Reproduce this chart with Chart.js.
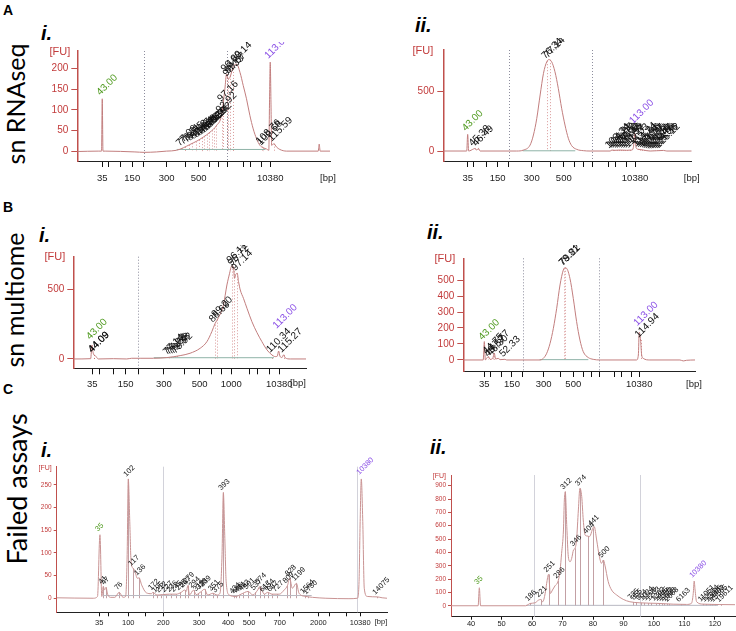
<!DOCTYPE html>
<html>
<head>
<meta charset="utf-8">
<script src="https://cdn.jsdelivr.net/npm/chart.js@4.4.0/dist/chart.umd.min.js"></script>
<style>
body { margin: 0; background: #fff; width: 736px; height: 631px; position: relative; overflow: hidden; font-family: "Liberation Sans", Arial, sans-serif; }
canvas { position: absolute; }
.letter { position: absolute; font-weight: bold; font-size: 14px; }
.roman { position: absolute; font-weight: bold; font-style: italic; font-size: 20px; }
.side { position: absolute; font-family: Lato, sans-serif; font-size: 25px; white-space: nowrap; transform: translate(-50%, -50%) rotate(-90deg); }
</style>
</head>
<body>
<div class="letter" style="left:3px;top:2px">A</div>
<div class="letter" style="left:3px;top:199px">B</div>
<div class="letter" style="left:3px;top:381px">C</div>
<div class="roman" style="left:41px;top:22px">i.</div>
<div class="roman" style="left:415px;top:14px">ii.</div>
<div class="roman" style="left:39px;top:224px">i.</div>
<div class="roman" style="left:427px;top:221px">ii.</div>
<div class="roman" style="left:41px;top:439px">i.</div>
<div class="roman" style="left:430px;top:436px">ii.</div>
<div class="side" style="left:15px;top:104px">sn RNAseq</div>
<div class="side" style="left:14px;top:300px">sn multiome</div>
<div class="side" style="left:16px;top:489px;font-size:27px">Failed assays</div>

<canvas id="ai"></canvas>
<canvas id="aii"></canvas>
<canvas id="bi"></canvas>
<canvas id="bii"></canvas>
<canvas id="ci"></canvas>
<canvas id="cii"></canvas>

<script>
// Ladder: migration time (s) of each size standard, and its size in bp
const ladderSec = [43, 45.6, 50.8, 55.5, 60.2, 69.8, 77.6, 83.2, 87.6, 91.4, 95.0, 101.8, 104.9, 109.4, 113];
const ladderBp = [35, 50, 100, 150, 200, 300, 400, 500, 600, 700, 1000, 2000, 3000, 7000, 10380];
const aShownBp = [35, 150, 300, 500, 10380];
const biShownBp = [35, 150, 300, 500, 1000, 10380];
const ciShownBp = [35, 100, 200, 300, 400, 500, 700, 2000, 10380];
const ciiTicks = [40, 50, 60, 70, 80, 90, 100, 110, 120];

// A i. sn RNAseq
const aiTime = [32.6, 41.3, 42.7, 43.0, 43.3, 44.5, 56.6, 60.4, 65.6, 69.8, 74.0, 76.75, 79.5, 82.3, 85.1, 87.9, 90.6, 92.7, 94.1, 94.8, 95.5, 96.2, 97.6, 99.0, 100.4, 101.75, 103.1, 104.5, 105.9, 107.3, 108.7, 110.1, 111.5, 112.4, 112.7, 113.0, 113.3, 113.6, 114.5, 115.6, 117.0, 119.8, 133.0, 133.4, 133.8, 137.9];
const aiFU = [-1, 0, 0, 127, 0, 0, -2, -3, -2, 0, 2, 8, 16, 24, 34, 46, 62, 87, 151, 187, 175, 179, 205, 211, 191, 159, 127, 87, 54, 30, 14, 8, 5, 2, 119, 216, 119, 14, 18, 10, 4, 0, 0, 17, 0, 0];
const aiYTicks = [0, 50, 100, 150, 200];
const aiPeakX = [43.0, 113.0, 76.1, 77.5, 79.0, 80.5, 82.0, 83.2, 84.4, 85.5, 86.5, 87.6, 88.6, 89.5, 90.6, 92.7, 93.3, 94.8, 95.6, 96.4, 97.3, 109.4, 110.0, 114.5];
const aiPeakText = ['43.00', '113.00', '77.06', '78.21', '79.85', '80.93', '82.47', '83.64', '84.38', '85.75', '86.52', '87.69', '88.58', '89.34', '90.92', '92.92', '97.16', '96.89', '98.33', '99.67', '100.14', '108.76', '109.68', '115.59'];
const aiPeakKind = ['g', 'p', '', '', '', '', '', '', '', '', '', '', '', '', '', '', '', '', '', '', '', '', '', ''];
const aiRegions = [60.3, 95.1];
const aiBaseX = [74, 111], aiBaseY = [4, 4];

// A ii.
const aiiTime = [32.8, 42.6, 43.0, 43.4, 45.4, 46.1, 46.8, 47.5, 48.2, 63.5, 66.3, 69.1, 70.5, 71.9, 73.3, 74.7, 76.1, 77.0, 78.1, 79.5, 80.9, 82.3, 83.7, 85.1, 86.5, 88.6, 91.4, 94.2, 102.6, 103.3, 104.6, 106.7, 109.5, 111.6, 112.3, 112.9, 113.4, 114.4, 116.5, 119.3, 124.9, 126.3, 136.7];
const aiiFU = [0, 0, 140, 0, 17, 22, 8, 22, 0, 0, 8, 50, 135, 275, 472, 654, 753, 770, 753, 668, 528, 360, 219, 107, 45, 14, 3, 0, 0, 8, 6, 8, 6, 8, 30, 148, 30, 14, 8, 0, 5, 0, 0];
const aiiYTicks = [0, 500];
const aiiPeakX = [43.0, 45.9, 47.4, 76.3, 77.3, 113.0, 102.8, 103.6, 104.4, 105.3, 106.2, 107.1, 108.0, 108.9, 109.8, 111.0, 114.2, 115.0, 115.8, 116.6, 117.4, 118.2, 119.0, 119.8, 120.6, 121.4, 122.2, 123.0, 123.8];
const aiiPeakText = ['43.00', '45.38', '46.49', '76.34', '77.14', '113.00', '103.34', '104.21', '105.07', '106.12', '107.59', '108.33', '109.46', '110.52', '111.27', '112.03', '114.24', '115.61', '116.96', '117.50', '118.27', '119.55', '120.83', '121.10', '122.47', '123.75', '124.98', '125.36', '126.12'];
const aiiPeakKind = ['g', '', '', '', '', 'p', '', '', '', '', '', '', '', '', '', '', '', '', '', '', '', '', '', '', '', '', '', '', ''];
const aiiRegions = [60.2, 95.0];
const aiiBaseX = [66, 88], aiiBaseY = [2, 2];

// B i. sn multiome
const biTime = [35.9, 42.4, 42.9, 43.25, 43.6, 44.1, 44.6, 45.25, 50.9, 55.9, 57.75, 60.9, 65.9, 70.9, 75.9, 79.6, 83.4, 85.9, 87.75, 89.0, 90.25, 92.1, 93.4, 94.4, 94.9, 95.4, 95.9, 96.25, 96.75, 97.25, 97.75, 98.4, 99.6, 100.9, 102.75, 104.6, 106.5, 108.4, 110.25, 111.5, 112.25, 112.75, 113.25, 114.0, 114.6, 115.25, 117.1, 123.0];
const biFU = [0, 2, 100, 53, 29, 24, 12, 0, 2, 0, 5, 5, 5, 10, 24, 41, 77, 124, 196, 256, 297, 388, 531, 615, 655, 670, 651, 579, 608, 615, 555, 495, 435, 364, 268, 191, 124, 65, 29, 17, 20, 57, 20, 10, 29, 8, 0, 0];
const biYTicks = [0, 500];
const biPeakX = [42.9, 43.6, 43.65, 71.6, 72.4, 73.2, 74.0, 74.8, 88.8, 89.8, 95.4, 95.9, 97.25, 112.75, 110.3, 114.6];
const biPeakText = ['43.00', '44.09', '44.09', '77.14', '77.92', '78.55', '79.38', '79.92', '88.69', '89.20', '96.12', '96.72', '97.14', '113.00', '110.34', '115.27'];
const biPeakKind = ['g', '', '', '', '', '', '', '', '', '', '', '', '', 'p', '', ''];
const biRegions = [60.1];
const biBaseX = [66, 111], biBaseY = [9, 9];

// B ii.
const biiTime = [33.5, 42.5, 43.0, 43.45, 44.05, 44.8, 45.6, 46.8, 47.5, 48.1, 49.3, 50.1, 52.3, 53.1, 68.15, 69.65, 71.2, 72.7, 74.2, 75.7, 77.2, 78.7, 79.4, 80.2, 81.7, 83.2, 84.7, 86.2, 87.7, 90.0, 92.2, 95.3, 111.8, 112.6, 113.0, 113.6, 114.1, 114.8, 117.8, 131.4, 132.9, 134.4, 138.2];
const biiFU = [0, 0, 115, 0, 10, 21, 4, 10, 42, 6, 10, 2, 4, 0, 0, 10, 42, 104, 198, 323, 469, 563, 577, 573, 510, 385, 240, 125, 52, 15, 4, 0, 0, 31, 173, 125, 31, 10, 0, 0, -6, -2, 0];
const biiYTicks = [0, 100, 200, 300, 400, 500];
const biiPeakX = [43.0, 44.8, 45.6, 46.8, 47.5, 52.3, 79.2, 79.5, 113.0, 113.6];
const biiPeakText = ['43.00', '44.75', '45.57', '46.30', '47.77', '52.33', '78.81', '79.22', '113.00', '114.94'];
const biiPeakKind = ['g', '', '', '', '', '', '', '', 'p', ''];
const biiRegions = [60.3, 94.7];
const biiBaseX = [68, 90], biiBaseY = [2, 2];

// C i. failed assay
const ciTime = [31.6, 41.4, 42.55, 43.2, 43.7, 44.1, 44.4, 44.8, 45.3, 46.0, 47.2, 48.35, 49.4, 50.1, 50.5, 50.8, 51.2, 51.55, 52.1, 52.6, 53.2, 53.7, 54.4, 55.65, 57.0, 57.4, 58.5, 60.1, 61.9, 63.7, 65.0, 65.9, 66.35, 66.8, 67.2, 68.3, 69.0, 70.4, 71.25, 72.1, 73.5, 74.6, 75.4, 75.95, 76.3, 76.7, 77.05, 77.9, 79.7, 81.05, 83.0, 84.2, 85.5, 86.1, 87.3, 88.2, 89.35, 91.3, 92.6, 93.5, 94.1, 94.8, 95.9, 96.6, 98.4, 100.2, 103.8, 110.0, 112.25, 112.7, 113.0, 113.3, 113.7, 114.1, 114.9, 117.6, 118.9, 120.2];
const ciFU = [1, 0, 4, 140, 4, 26, 18, 24, 8, 2, 2, 13, 2, 4, 96, 263, 169, 81, 66, 60, 44, 45, 29, 12, 10, 13, 7, 8, 9, 9, 13, 18, 15, 28, 7, 18, 8, 15, 20, 7, 11, 7, 11, 96, 233, 132, 37, 7, 4, 9, 15, 7, 18, 26, 9, 13, 9, 9, 18, 28, 44, 22, 33, 11, 4, 2, 0, -1, 0, 37, 169, 263, 169, 22, 4, 3, 1, 0];
const ciYTicks = [0, 50, 100, 150, 200, 250];
const ciPeakX = [43.2, 44.1, 44.8, 48.35, 50.8, 52.1, 53.7, 57.4, 58.5, 59.5, 61.0, 62.3, 63.5, 64.8, 65.9, 66.8, 68.3, 69.5, 70.3, 71.25, 73.5, 74.6, 76.3, 79.2, 79.8, 80.6, 81.7, 83.0, 84.9, 86.1, 87.3, 88.3, 89.3, 90.7, 93.5, 94.1, 95.9, 98.2, 99.0, 113.3, 117.6];
const ciPeakText = ['35', '41', '47', '76', '102', '117', '136', '172', '195', '212', '227', '236', '245', '255', '267', '279', '294', '319', '328', '339', '351', '375', '393', '434', '446', '461', '482', '501', '537', '574', '617', '654', '687', '727', '809', '828', '1199', '1564', '1730', '10380', '14075'];
const ciPeakKind = ['g', '', '', '', '', '', '', '', '', '', '', '', '', '', '', '', '', '', '', '', '', '', '', '', '', '', '', '', '', '', '', '', '', '', '', '', '', '', '', 'p', ''];
const ciRegions = [60.0, 112.2];
const ciBaseX = [44, 100], ciBaseY = [6, 6];

// C ii.
const ciiTime = [33.4, 42.3, 42.7, 43.1, 57.9, 58.8, 59.3, 61.0, 62.1, 62.8, 63.5, 64.3, 64.8, 65.4, 66.0, 66.7, 67.5, 68.6, 69.2, 69.7, 70.3, 70.6, 70.9, 71.4, 71.9, 72.5, 73.0, 73.6, 74.1, 74.6, 75.2, 75.7, 76.3, 76.8, 77.4, 78.1, 78.8, 79.2, 79.9, 80.4, 81.2, 82.1, 82.8, 83.4, 83.9, 85.0, 86.1, 87.8, 89.9, 92.1, 95.4, 100.9, 106.3, 110.7, 112.3, 112.9, 113.2, 113.5, 114.0, 116.2, 126.6];
const ciiFU = [0, 0, 135, 0, 0, 10, 17, 22, 42, 47, 30, 92, 168, 235, 92, 118, 148, 188, 268, 393, 568, 793, 855, 593, 368, 330, 355, 418, 430, 493, 718, 880, 818, 643, 530, 523, 518, 530, 580, 593, 493, 368, 318, 343, 305, 180, 118, 80, 48, 30, 22, 18, 12, 10, 18, 92, 185, 118, 30, 12, 8];
const ciiYTicks = [0, 100, 200, 300, 400, 500, 600, 700, 800, 900];
const ciiPeakX = [42.7, 59.3, 62.8, 65.4, 68.6, 70.9, 74.1, 75.7, 78.4, 79.9, 83.4, 93.0, 94.0, 95.6, 96.8, 97.9, 99.0, 100.6, 101.6, 102.5, 103.3, 104.2, 105.0, 108.8, 113.2, 116.0, 117.2, 118.3, 119.2, 120.0, 122.0];
const ciiPeakText = ['35', '186', '221', '251', '286', '312', '346', '374', '404', '441', '500', '735', '855', '954', '1024', '1108', '1203', '1362', '1485', '1596', '1723', '1880', '2068', '6163', '10380', '11051', '12514', '13486', '14402', '15565', '19611'];
const ciiPeakKind = ['g', '', '', '', '', '', '', '', '', '', '', '', '', '', '', '', '', '', '', '', '', '', '', '', 'p', '', '', '', '', '', ''];
const ciiRegions = [60.8, 95.4];
const ciiBaseX = [58, 121], ciiBaseY = [3, 3];

const RED = '#c23b3b';
const AXISRED = '#c0504d';
const GREEN = '#4f9a1f';
const PURPLE = '#8a4fe6';

function yAt(xs, ys, t) {
  if (t <= xs[0]) return ys[0];
  for (let i = 1; i < xs.length; i++) {
    if (t <= xs[i]) {
      const f = (t - xs[i - 1]) / (xs[i] - xs[i - 1]);
      return ys[i - 1] + f * (ys[i] - ys[i - 1]);
    }
  }
  return ys[ys.length - 1];
}

// overlay: region lines, drop lines, peak labels, [FU] and [bp]
function overlay(p) {
  return {
    id: 'overlay',
    beforeDatasetsDraw(chart) {
      const c = chart.ctx, xs = chart.scales.x, ys = chart.scales.y, a = chart.chartArea;
      c.save();
      c.lineWidth = 1;
      c.strokeStyle = p.regionColor;
      c.setLineDash(p.regionDash);
      p.regions.forEach(t => {
        const px = Math.round(xs.getPixelForValue(t)) + 0.5;
        c.beginPath(); c.moveTo(px, a.top); c.lineTo(px, a.bottom); c.stroke();
      });
      c.strokeStyle = p.dropColor;
      c.setLineDash(p.dropDash);
      const y0 = ys.getPixelForValue(0);
      p.peakX.forEach((t, i) => {
        if (p.peakKind[i]) return;
        const px = Math.round(xs.getPixelForValue(t)) + 0.5;
        const py = ys.getPixelForValue(yAt(p.time, p.fu, t));
        c.beginPath(); c.moveTo(px, py); c.lineTo(px, y0); c.stroke();
      });
      c.restore();
    },
    afterDatasetsDraw(chart) {
      const c = chart.ctx, xs = chart.scales.x, ys = chart.scales.y, a = chart.chartArea;
      c.save();
      c.font = p.labFont;
      c.textAlign = 'left';
      c.textBaseline = 'alphabetic';
      p.peakX.forEach((t, i) => {
        const kind = p.peakKind[i];
        const px = xs.getPixelForValue(t);
        const py = ys.getPixelForValue(yAt(p.time, p.fu, t));
        const dy = kind === 'g' ? p.greenDy : kind === 'p' ? p.purpleDy : p.labDy;
        c.save();
        c.translate(px - 2, py + dy);
        c.rotate(-p.labAngle * Math.PI / 180);
        c.fillStyle = kind === 'g' ? GREEN : kind === 'p' ? PURPLE : '#111';
        c.fillText(p.peakText[i], 0, 0);
        c.restore();
      });
      c.font = p.fuFont;
      c.fillStyle = RED;
      c.textAlign = 'right';
      c.textBaseline = 'middle';
      c.fillText('[FU]', a.left - p.fuDx, a.top + p.fuDy);
      if (p.bpDx !== null) {
        c.font = p.xFontCss;
        c.fillStyle = '#222';
        c.textAlign = 'center';
        c.fillText('[bp]', a.right + p.bpDx, a.bottom + p.bpDy);
      }
      c.restore();
    }
  };
}

function drawPanel(id, box, area, p) {
  const cv = document.getElementById(id);
  cv.width = box[2];
  cv.height = box[3];
  cv.style.left = box[0] + 'px';
  cv.style.top = box[1] + 'px';
  const pad = { left: area[0] - box[0] - p.wy, top: area[1] - box[1], right: box[0] + box[2] - area[2], bottom: 0 };
  const hx = box[1] + box[3] - area[3];
  p.xFontCss = p.xFont + 'px "Liberation Sans"';
  new Chart(cv, {
    type: 'line',
    data: {
      datasets: [
        { data: p.time.map((t, i) => ({ x: t, y: p.fu[i] })), borderColor: p.lineColor, borderWidth: 1, pointRadius: 0, cubicInterpolationMode: 'monotone', fill: false },
        { data: p.baseX.map((t, i) => ({ x: t, y: p.baseY[i] })), borderColor: p.baseColor, borderWidth: 1, pointRadius: 0, fill: false }
      ]
    },
    options: {
      animation: false,
      responsive: false,
      devicePixelRatio: 1,
      layout: { padding: pad },
      plugins: { legend: { display: false }, tooltip: { enabled: false } },
      scales: {
        x: {
          type: 'linear', min: p.xMin, max: p.xMax,
          afterBuildTicks: s => { s.ticks = p.xTicks.map(v => ({ value: v })); },
          afterFit: s => { s.height = hx; },
          ticks: {
            autoSkip: false, maxRotation: 0, minRotation: 0, padding: p.xPad, color: '#222',
            font: { family: 'Liberation Sans', size: p.xFont },
            callback: v => { const i = p.xTicks.indexOf(v); return i < 0 ? '' : p.xLabels[i]; }
          },
          grid: { display: true, drawOnChartArea: false, drawTicks: true, tickLength: p.xTickLen, tickColor: '#111' },
          border: { display: true, color: '#222', width: 1 }
        },
        y: {
          min: p.yMin, max: p.yMax,
          afterBuildTicks: s => { s.ticks = p.yTicks.map(v => ({ value: v })); },
          afterFit: s => { s.width = p.wy; },
          ticks: { color: RED, padding: p.yPad, font: { family: 'Liberation Sans', size: p.yFont }, callback: v => String(v) },
          grid: { display: true, drawOnChartArea: false, drawTicks: true, tickLength: p.yTickLen, tickColor: AXISRED },
          border: { display: true, color: AXISRED, width: p.yBorder }
        }
      }
    },
    plugins: [overlay(p)]
  });
}

const abStyle = {
  wy: 40, lineColor: '#c27e7e', baseColor: '#8fb3a8',
  regionColor: '#8d8d9d', regionDash: [1, 2], dropColor: 'rgba(185,70,70,0.55)', dropDash: [1, 2],
  labFont: '10px "Liberation Sans"', labAngle: 45, labDy: -2,
  fuFont: '11px "Liberation Sans"', xFont: 9.5, yFont: 10, xTickLen: 6, yTickLen: 6, yPad: 3, yBorder: 1.5
};
const cStyle = {
  wy: 30, lineColor: '#c99393', baseColor: '#b9b9c2',
  regionColor: '#d2d2da', regionDash: [], dropColor: 'rgba(170,120,125,0.7)', dropDash: [],
  labFont: '7.5px "Liberation Sans"', labAngle: 45, labDy: -2,
  fuFont: '7px "Liberation Sans"', xFont: 7.5, yFont: 6.5, xTickLen: 4, yTickLen: 3, yPad: 2, yBorder: 1
};
const ladderLabels = shown => ladderBp.map(b => shown.includes(b) ? String(b) : '');

drawPanel('ai', [20, 42, 322, 150], [77.3, 50, 330, 161], Object.assign({}, abStyle, {
  time: aiTime, fu: aiFU, xMin: 32.6, xMax: 137.9, yMin: -24, yMax: 243, yTicks: aiYTicks,
  xTicks: ladderSec, xLabels: ladderLabels(aShownBp), xPad: 6,
  peakX: aiPeakX, peakText: aiPeakText, peakKind: aiPeakKind, greenDy: -3, purpleDy: -3,
  regions: aiRegions, baseX: aiBaseX, baseY: aiBaseY, fuDx: 7, fuDy: 1, bpDx: -2, bpDy: 17
}));
drawPanel('aii', [400, 38, 336, 154], [443.3, 50, 691.7, 161], Object.assign({}, abStyle, {
  time: aiiTime, fu: aiiFU, xMin: 32.8, xMax: 136.7, yMin: -84, yMax: 851, yTicks: aiiYTicks,
  xTicks: ladderSec, xLabels: ladderLabels(aShownBp), xPad: 6,
  peakX: aiiPeakX, peakText: aiiPeakText, peakKind: aiiPeakKind, greenDy: -3, purpleDy: -12,
  regions: aiiRegions, baseX: aiiBaseX, baseY: aiiBaseY, fuDx: 10, fuDy: 1, bpDx: 0, bpDy: 17
}));
drawPanel('bi', [20, 245, 312, 146], [73.3, 256.7, 306, 368.3], Object.assign({}, abStyle, {
  time: biTime, fu: biFU, xMin: 35.9, xMax: 123, yMin: -67, yMax: 734, yTicks: biYTicks,
  xTicks: ladderSec, xLabels: ladderLabels(biShownBp), xPad: 4,
  peakX: biPeakX, peakText: biPeakText, peakKind: biPeakKind, greenDy: -5, purpleDy: -22,
  regions: biRegions, baseX: biBaseX, baseY: biBaseY, fuDx: 8, fuDy: 0, bpDx: -8, bpDy: 15
}));
drawPanel('bii', [400, 245, 336, 148], [463.3, 258.3, 695, 371], Object.assign({}, abStyle, {
  time: biiTime, fu: biiFU, xMin: 33.5, xMax: 138.2, yMin: -69, yMax: 636, yTicks: biiYTicks,
  xTicks: ladderSec, xLabels: ladderLabels(aShownBp), xPad: 2,
  peakX: biiPeakX, peakText: biiPeakText, peakKind: biiPeakKind, greenDy: -1, purpleDy: -6,
  regions: biiRegions, baseX: biiBaseX, baseY: biiBaseY, fuDx: 8, fuDy: 1, bpDx: -1, bpDy: 13
}));
drawPanel('ci', [15, 455, 385, 176], [56.7, 466.7, 387, 612.3], Object.assign({}, cStyle, {
  time: ciTime, fu: ciFU, xMin: 31.6, xMax: 120.2, yMin: -31, yMax: 290, yTicks: ciYTicks,
  xTicks: ladderSec, xLabels: ladderLabels(ciShownBp), xPad: 2,
  peakX: ciPeakX, peakText: ciPeakText, peakKind: ciPeakKind, greenDy: -3, purpleDy: -4,
  regions: ciRegions, baseX: ciBaseX, baseY: ciBaseY, fuDx: 5, fuDy: 1, bpDx: -6, bpDy: 10
}));
drawPanel('cii', [405, 455, 331, 176], [451, 475, 735, 616.7], Object.assign({}, cStyle, {
  time: ciiTime, fu: ciiFU, xMin: 33.4, xMax: 126.6, yMin: -82, yMax: 980, yTicks: ciiYTicks,
  xTicks: ciiTicks, xLabels: ciiTicks.map(String), xPad: 0, xTickLen: 3,
  peakX: ciiPeakX, peakText: ciiPeakText, peakKind: ciiPeakKind, greenDy: -3, purpleDy: -3,
  regions: ciiRegions, baseX: ciiBaseX, baseY: ciiBaseY, fuDx: 5, fuDy: 1, bpDx: null, bpDy: 0
}));
</script>
</body>
</html>
